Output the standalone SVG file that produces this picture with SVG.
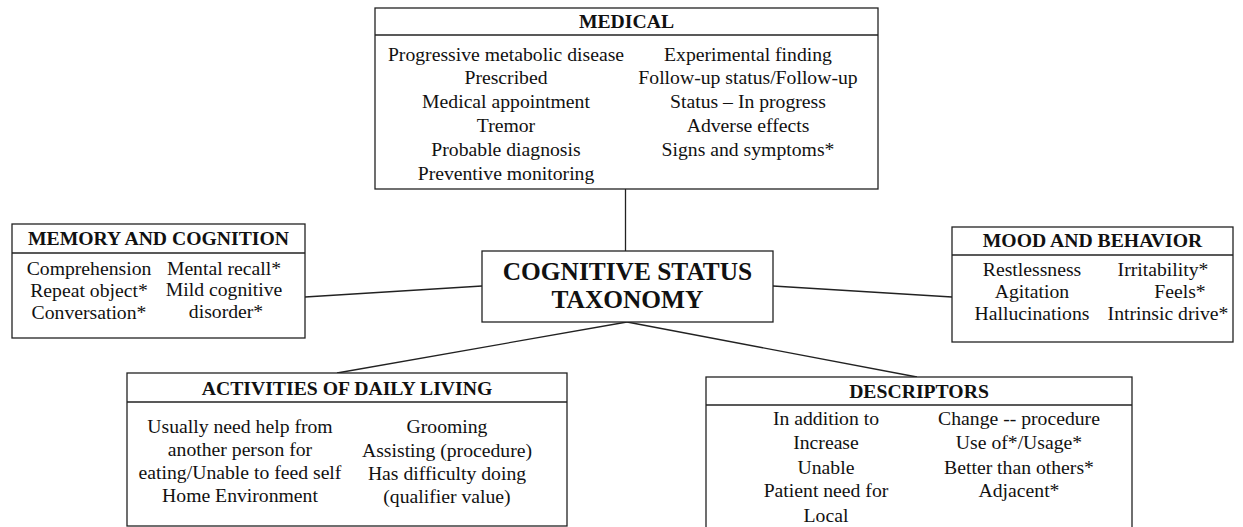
<svg xmlns="http://www.w3.org/2000/svg" width="1243" height="527" viewBox="0 0 1243 527">
<style>
.box{fill:#fff;stroke:#222;stroke-width:1.3}
.sep{stroke:#222;stroke-width:1.3}
.con{stroke:#222;stroke-width:1.3;fill:none}
.h{font-weight:bold;font-size:19.7px}
.b{font-size:19.7px}
.t{font-weight:bold;font-size:25.4px}
</style>
<rect width="1243" height="527" fill="#fff"/>
<g id="connectors">
<line class="con" x1="625.5" y1="189" x2="625.5" y2="251"/>
<line class="con" x1="305" y1="297" x2="482" y2="286"/>
<line class="con" x1="773" y1="286" x2="952" y2="297"/>
<line class="con" x1="627" y1="322" x2="337" y2="373"/>
<line class="con" x1="627" y1="322" x2="917" y2="377"/>
</g>
<g font-family="'Liberation Serif', 'DejaVu Serif', serif" fill="#111" text-anchor="middle">
<g id="medical">
<rect class="box" x="375" y="8" width="503" height="181"/>
<line class="sep" x1="375" y1="35" x2="878" y2="35"/>
<text class="h" x="626.5" y="28">MEDICAL</text>
<text class="b" x="506" y="61">Progressive metabolic disease</text>
<text class="b" x="506" y="84">Prescribed</text>
<text class="b" x="506" y="108">Medical appointment</text>
<text class="b" x="506" y="132">Tremor</text>
<text class="b" x="506" y="156">Probable diagnosis</text>
<text class="b" x="506" y="180">Preventive monitoring</text>
<text class="b" x="748" y="61">Experimental finding</text>
<text class="b" x="748" y="84">Follow-up status/Follow-up</text>
<text class="b" x="748" y="108">Status – In progress</text>
<text class="b" x="748" y="132">Adverse effects</text>
<text class="b" x="748" y="156">Signs and symptoms*</text>
</g>
<g id="center">
<rect class="box" x="482" y="251" width="291" height="71"/>
<text class="t" x="627.5" y="280">COGNITIVE STATUS</text>
<text class="t" x="627.5" y="308">TAXONOMY</text>
</g>
<g id="memory">
<rect class="box" x="12" y="224" width="293" height="114"/>
<line class="sep" x1="12" y1="253" x2="305" y2="253"/>
<text class="h" x="158.5" y="245">MEMORY AND COGNITION</text>
<text class="b" x="89" y="275">Comprehension</text>
<text class="b" x="89" y="297">Repeat object*</text>
<text class="b" x="89" y="319">Conversation*</text>
<text class="b" x="224" y="275">Mental recall*</text>
<text class="b" x="224" y="296">Mild cognitive</text>
<text class="b" x="226" y="318">disorder*</text>
</g>
<g id="mood">
<rect class="box" x="952" y="227" width="281" height="115"/>
<line class="sep" x1="952" y1="255" x2="1233" y2="255"/>
<text class="h" x="1092.5" y="247">MOOD AND BEHAVIOR</text>
<text class="b" x="1032" y="276">Restlessness</text>
<text class="b" x="1032" y="298">Agitation</text>
<text class="b" x="1032" y="320">Hallucinations</text>
<text class="b" x="1163" y="276">Irritability*</text>
<text class="b" x="1180" y="298">Feels*</text>
<text class="b" x="1168" y="320">Intrinsic drive*</text>
</g>
<g id="activities">
<rect class="box" x="127" y="373" width="440" height="153"/>
<line class="sep" x1="127" y1="402" x2="567" y2="402"/>
<text class="h" x="347" y="395">ACTIVITIES OF DAILY LIVING</text>
<text class="b" x="240" y="433">Usually need help from</text>
<text class="b" x="240" y="456">another person for</text>
<text class="b" x="240" y="479">eating/Unable to feed self</text>
<text class="b" x="240" y="502">Home Environment</text>
<text class="b" x="447" y="433">Grooming</text>
<text class="b" x="447" y="457">Assisting (procedure)</text>
<text class="b" x="447" y="480">Has difficulty doing</text>
<text class="b" x="447" y="503">(qualifier value)</text>
</g>
<g id="descriptors">
<rect class="box" x="706" y="377" width="426" height="170"/>
<line class="sep" x1="706" y1="405" x2="1132" y2="405"/>
<text class="h" x="919" y="398">DESCRIPTORS</text>
<text class="b" x="826" y="425">In addition to</text>
<text class="b" x="826" y="449">Increase</text>
<text class="b" x="826" y="474">Unable</text>
<text class="b" x="826" y="497">Patient need for</text>
<text class="b" x="826" y="522">Local</text>
<text class="b" x="1019" y="425">Change -- procedure</text>
<text class="b" x="1019" y="449">Use of*/Usage*</text>
<text class="b" x="1019" y="474">Better than others*</text>
<text class="b" x="1019" y="497">Adjacent*</text>
</g>
</g>
</svg>
